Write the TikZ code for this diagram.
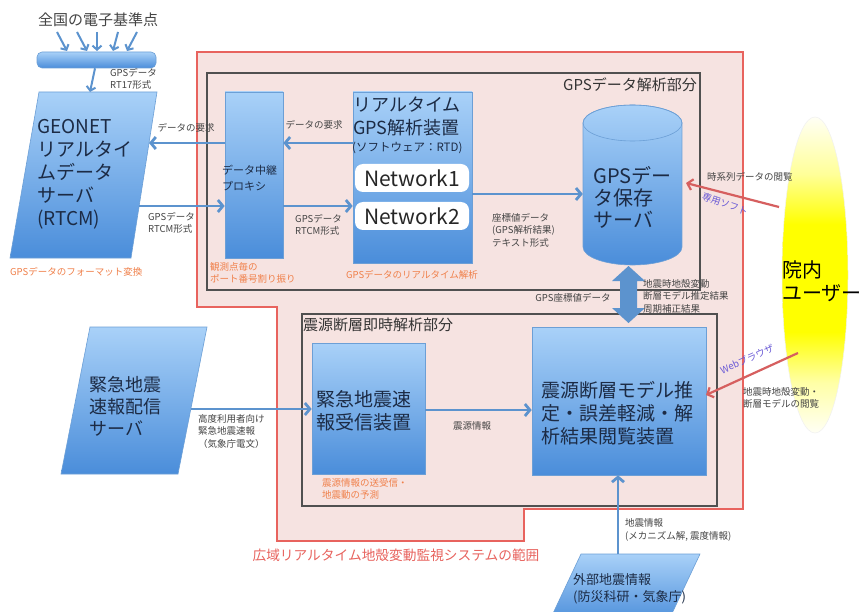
\documentclass[tikz,border=0pt]{standalone}
\usepackage{fontspec}
\setmainfont{Noto Sans CJK JP}
\usetikzlibrary{arrows.meta,calc}
\definecolor{boxtop}{HTML}{A9D1F8}
\definecolor{boxbot}{HTML}{4A8DDA}
\definecolor{boxline}{HTML}{6C9FD6}
\definecolor{arrblue}{HTML}{5C93CE}
\definecolor{arrred}{HTML}{D65F5F}
\definecolor{zonefill}{HTML}{F6E3E1}
\definecolor{zoneline}{HTML}{E8635E}
\definecolor{framec}{HTML}{505050}
\definecolor{inktext}{HTML}{1C2B45}
\definecolor{labtext}{HTML}{444444}
\definecolor{orangetext}{HTML}{F0804A}
\definecolor{violettext}{HTML}{6A5AD6}
\pgfdeclareverticalshading{userglow}{100bp}{color(0bp)=(white); color(25bp)=(yellow!4!white); color(33bp)=(yellow!35!white); color(41bp)=(yellow); color(58bp)=(yellow); color(66bp)=(yellow!40!white); color(75bp)=(yellow!4!white); color(100bp)=(white)}
\begin{document}
\begin{tikzpicture}[x=1pt,y=-1pt,
  box/.style={draw=boxline, line width=0.6pt, top color=boxtop, bottom color=boxbot, inner sep=0pt},
  bigtext/.style={font=\fontsize{19}{23}\selectfont, text=inktext, align=left, inner sep=0pt},
  midtext/.style={font=\fontsize{11}{16}\selectfont, text=inktext, align=left, inner sep=0pt},
  lab/.style={font=\fontsize{9.5}{12.5}\selectfont, text=labtext, align=left, inner sep=0pt},
  orlab/.style={lab, text=orangetext},
  vlab/.style={font=\fontsize{9.5}{12}\selectfont, text=violettext, inner sep=0pt},
  title/.style={font=\fontsize{15}{18}\selectfont, text=black!80, inner sep=0pt},
  netbox/.style={fill=white, rounded corners=8pt, minimum width=114pt, minimum height=28pt, inner sep=0pt, font=\fontsize{21}{24}\selectfont, text=black!85},
  arr/.style={draw=arrblue, line width=2.8pt, -{Straight Barb[length=5pt,width=12pt]}},
  arrsm/.style={draw=arrblue, line width=2pt, -{Straight Barb[length=4pt,width=9pt]}},
  redarr/.style={draw=arrred, line width=2.2pt, -{Straight Barb[length=5pt,width=11pt]}}
]
\useasboundingbox (0,0) rectangle (861,612);
\fill[white] (0,0) rectangle (861,612);

% system zone
\filldraw[fill=zonefill, draw=zoneline, line width=1.2pt]
  (197,52) -- (743,52) -- (743,509) -- (524,509) -- (524,541) -- (277,541) -- (277,307) -- (197,307) -- cycle;
\node[font=\fontsize{13.7}{16}\selectfont, text=zoneline, inner sep=0pt] (tzone) at (396,555) {広域リアルタイム地殻変動監視システムの範囲};

% section frames
\draw[draw=framec, line width=1.3pt] (207,73) rectangle (700,290);
\draw[draw=framec, line width=1.3pt] (302,314) rectangle (717,506);
\node[title, anchor=east] (tgps) at (697,85) {GPSデータ解析部分};
\node[title, anchor=west] (tsrc) at (303,325) {震源断層即時解析部分};

% reference stations bar
\node[font=\fontsize{15}{18}\selectfont, text=labtext, inner sep=0pt] (tnat) at (98,20) {全国の電子基準点};
\node[box, rounded corners=5pt, minimum width=119pt, minimum height=16pt] (bar) at (96.5,60) {};
\coordinate (s1) at (57,32); \coordinate (e1) at (67,51);
\coordinate (s2) at (77,32); \coordinate (e2) at (87,51);
\coordinate (s3) at (97,32); \coordinate (e3) at (97,51);
\coordinate (s4) at (118,32); \coordinate (e4) at (113,51);
\coordinate (s5) at (137,32); \coordinate (e5) at (127,51);
\foreach \i in {1,...,5} { \draw[arrsm] (s\i) -- (e\i); }

% GEONET server
\shade[top color=boxtop, bottom color=boxbot, draw=boxline, line width=0.6pt]
  (39,92) -- (157,92) -- (131,258) -- (10,258) -- cycle;
\node[bigtext, anchor=west] (tgeo) at (37,174) {GEONET\\リアルタイ\\ムデータ\\サーバ\\(RTCM)};
\coordinate (geotop) at (90,92);
\coordinate (g1) at (149,143);
\coordinate (g2) at (139,206);
\draw[arrsm] (bar.south -| 95,0) -- (geotop);
\node[lab, anchor=west] (lrt17) at (110,79) {GPSデータ\\RT17形式};
\node[orlab, anchor=west] (lfmt) at (10,272) {GPSデータのフォーマット変換};

% proxy
\node[box, minimum width=58pt, minimum height=166pt] (proxy) at (254,175) {};
\node[midtext, anchor=west] (tproxy) at (222,178) {データ中継\\プロキシ};
\node[orlab, anchor=west] (lport) at (210,273) {観測点毎の\\ポート番号割り振り};

% RTD
\node[box, minimum width=119pt, minimum height=171pt] (rtd) at (412.5,177.5) {};
\node[font=\fontsize{18}{23}\selectfont, text=inktext, align=left, inner sep=0pt, anchor=west] (trtd) at (353,116.5) {リアルタイム\\GPS解析装置};
\node[font=\fontsize{11.5}{14}\selectfont, text=inktext, inner sep=0pt, anchor=west] (tsoft) at (352,148) {(ソフトウェア：RTD)};
\node[netbox] (net1) at (412,178) {Network1};
\node[netbox] (net2) at (412,216) {Network2};
\node[orlab] (lrt) at (412,275) {GPSデータのリアルタイム解析};

% y levels
\coordinate (yA) at (0,143);
\coordinate (yB) at (0,206);
\coordinate (yC) at (0,194);
\coordinate (yD) at (0,409);

% arrows GEONET <-> proxy <-> RTD
\draw[arr] (proxy.west |- yA) -- (g1);
\draw[arr] (g2) -- (proxy.west |- yB);
\draw[arr] (rtd.west |- yA) -- (proxy.east |- yA);
\draw[arr] (proxy.east |- yB) -- (rtd.west |- yB);
\node[lab] (lreq1) at (186,128) {データの要求};
\node[lab, anchor=west] (lrtcm1) at (148,223) {GPSデータ\\RTCM形式};
\node[lab] (lreq2) at (314,125) {データの要求};
\node[lab, anchor=west] (lrtcm2) at (295,225) {GPSデータ\\RTCM形式};

% GPS data storage cylinder
\shade[top color=boxtop, bottom color=boxbot, draw=boxline, line width=0.6pt]
  (583,123) -- (583,247) arc[start angle=180, end angle=0, x radius=49.5, y radius=18]
  -- (682,123) arc[start angle=0, end angle=-180, x radius=49.5, y radius=18] -- cycle;
\draw[boxline, line width=0.6pt] (632.5,123) ellipse [x radius=49.5, y radius=18];
\node[bigtext, minimum width=99pt, minimum height=160pt, font=\fontsize{20}{22}\selectfont] (cyl) at (632.5,197) {GPSデー\\タ保存\\サーバ};
\draw[arr] (rtd.east |- yC) -- (cyl.west |- yC);
\node[lab, anchor=west] (lcoord) at (492,230) {座標値データ\\(GPS解析結果)\\テキスト形式};

% double block arrow cylinder <-> analysis
\fill[arrblue] (628.5,266) -- (645,281) -- (637,281) -- (637,308) -- (645,308) -- (628.5,323)
  -- (612,308) -- (620,308) -- (620,281) -- (612,281) -- cycle;
\node[lab] (lgpsc) at (573,298) {GPS座標値データ};
\node[lab, anchor=west] (lres) at (643,296) {地震時地殻変動\\断層モデル推定結果\\周期補正結果};

% EEW distribution server
\shade[top color=boxtop, bottom color=boxbot, draw=boxline, line width=0.6pt]
  (90,327) -- (207,327) -- (178,474) -- (61,474) -- cycle;
\node[bigtext, font=\fontsize{18}{22}\selectfont, anchor=west] (teew) at (89,406) {緊急地震\\速報配信\\サーバ};
\coordinate (ee1) at (191,409);
\node[lab, anchor=west] (leew) at (198,431) {高度利用者向け\\緊急地震速報\\（気象庁電文）};

% EEW receiver
\node[box, minimum width=113pt, minimum height=131pt] (eewr) at (368.5,408.5) {};
\node[bigtext, anchor=center] (teewr) at (364,411) {緊急地震速\\報受信装置};
\node[orlab, anchor=west] (lsend) at (322,489) {震源情報の送受信・\\地震動の予測};
\draw[arr] (ee1) -- (eewr.west |- yD);

% analysis device
\node[box, minimum width=174pt, minimum height=148pt] (anal) at (619,401) {};
\node[bigtext, anchor=west] (tanal) at (541,413) {震源断層モデル推\\定・誤差軽減・解\\析結果閲覧装置};
\draw[arr] (eewr.east |- 0,410) -- (anal.west |- 0,410);
\node[lab] (lsrc) at (472,426) {震源情報};

% external earthquake info
\shade[top color=boxtop, bottom color=boxbot, draw=boxline, line width=0.6pt]
  (581,554) -- (700,554) -- (667,624) -- (548,624) -- cycle;
\node[font=\fontsize{13}{17}\selectfont, text=inktext, align=left, inner sep=0pt, anchor=west] (text) at (573,589) {外部地震情報\\(防災科研・気象庁)};
\coordinate (x1) at (618,554);
\draw[arr] (x1) -- (x1 |- anal.south);
\node[lab, anchor=west] (lquake) at (625,530) {地震情報\\(メカニズム解,\ 震度情報)};

% in-house users
\shade[shading=userglow, draw=black!6, line width=0.5pt] (815,275) ellipse [x radius=33, y radius=158];
\node[font=\fontsize{20}{23}\selectfont, text=black, align=left, inner sep=0pt, anchor=west] (user) at (782,281) {院内\\ユーザー};
\coordinate (u1) at (779,207);
\coordinate (u2) at (798,353);
\coordinate (c1) at (686,183);
\coordinate (c2) at (706,395);
\draw[redarr] (u1) -- (c1);
\draw[redarr] (u2) -- (c2);
\node[lab, anchor=west] (lts) at (707,177) {時系列データの閲覧};
\node[vlab, rotate=-19] (lsoft) at (725,204) {専用ソフト};
\node[vlab, rotate=24] (lweb) at (747,359) {Webブラウザ};
\node[lab, anchor=west] (lview) at (743,398) {地震時地殻変動・\\断層モデルの閲覧};
\end{tikzpicture}
\end{document}
